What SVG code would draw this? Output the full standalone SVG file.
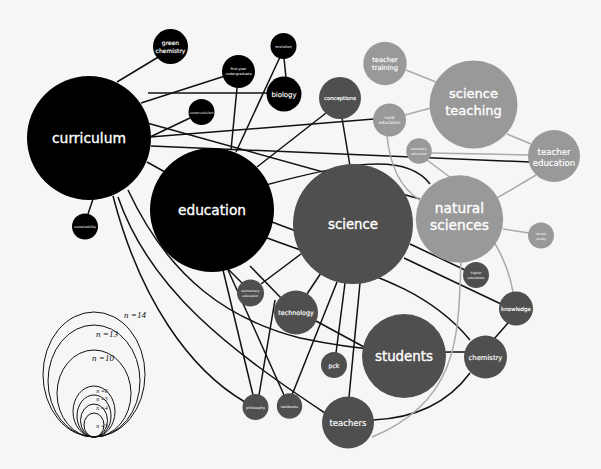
<svg xmlns="http://www.w3.org/2000/svg" width="601" height="469" viewBox="0 0 601 469">
<style>
.bg{fill:#f6f6f6}
.k{fill:#000}
.d{fill:#4f4f4f}
.g{fill:#999}
.e path,.e line{fill:none;stroke:#111;stroke-width:1.5}
.e .gr{stroke:#aaa}
text{fill:#fff;font-family:"DejaVu Sans","Open Sans",sans-serif;text-anchor:middle}
.b{stroke:#fff;stroke-width:0.35}
.m{stroke:#fff;stroke-width:0.15}
.lg ellipse{fill:none;stroke:#111;stroke-width:1}
.lg text{fill:#111;font-family:"Liberation Serif",serif;font-style:italic}
</style>
<rect class="bg" width="601" height="469"/>
<g class="e" id="connectors">
<line x1="117" y1="82" x2="160" y2="56"/>
<line x1="141" y1="103" x2="225" y2="76"/>
<line x1="148" y1="93" x2="268" y2="93"/>
<line x1="150" y1="137" x2="190" y2="118"/>
<line x1="150" y1="137" x2="374" y2="119"/>
<line x1="151" y1="146" x2="530" y2="162"/>
<line x1="147" y1="123" x2="420" y2="199"/>
<path d="M262,186 C340,165 405,150 430,184"/>
<line x1="147" y1="162" x2="165" y2="172"/>
<line x1="93" y1="199" x2="88" y2="214"/>
<line x1="237" y1="88" x2="231" y2="150"/>
<line x1="280" y1="57" x2="236" y2="152"/>
<line x1="284" y1="58" x2="286" y2="78"/>
<line x1="326" y1="113" x2="257" y2="167"/>
<line x1="342" y1="118" x2="350" y2="166"/>
<line x1="272" y1="222" x2="296" y2="231"/>
<line x1="227" y1="268" x2="243" y2="284"/>
<line x1="261" y1="284" x2="301" y2="254"/>
<line x1="250" y1="266" x2="282" y2="299"/>
<line x1="307" y1="294" x2="323" y2="270"/>
<line x1="316" y1="321" x2="364" y2="347"/>
<line x1="345" y1="283" x2="336" y2="353"/>
<line x1="337" y1="282" x2="292" y2="395"/>
<line x1="360" y1="283" x2="349" y2="397"/>
<line x1="410" y1="244" x2="465" y2="270"/>
<line x1="404" y1="258" x2="501" y2="304"/>
<line x1="223" y1="270" x2="253" y2="395"/>
<line x1="228" y1="270" x2="284" y2="395"/>
<line x1="275" y1="300" x2="259" y2="395"/>
<path d="M113,196 C140,300 190,370 245,402"/>
<path d="M118,197 C150,290 230,350 325,413"/>
<path d="M128,190 C170,280 230,320 300,338 C380,355 430,352 465,352"/>
<path d="M262,236 C350,270 420,280 470,340"/>
<path d="M373,420 C420,418 450,400 470,373"/>
<line x1="508" y1="323" x2="494" y2="339"/>
<line class="gr" x1="406" y1="70" x2="436" y2="82"/>
<line class="gr" x1="405" y1="115" x2="431" y2="108"/>
<line class="gr" x1="507" y1="134" x2="531" y2="144"/>
<line class="gr" x1="431" y1="153" x2="529" y2="155"/>
<line class="gr" x1="427" y1="160" x2="451" y2="178"/>
<line class="gr" x1="497" y1="198" x2="536" y2="175"/>
<line class="gr" x1="503" y1="229" x2="529" y2="233"/>
<path class="gr" d="M387,136 C390,165 400,188 420,200"/>
<path class="gr" d="M494,242 C505,260 510,275 513,292"/>
<path class="gr" d="M461,262 C458,330 462,400 372,437"/>
</g>
<g id="curriculum"><circle class="k" cx="89" cy="138" r="62"/><text class="b" x="89" y="143" font-size="13.9">curriculum</text></g>
<g id="education"><circle class="k" cx="212" cy="210" r="62"/><text class="b" x="212" y="214.5" font-size="13.7">education</text></g>
<g id="science"><circle class="d" cx="353" cy="224" r="60"/><text class="b" x="353" y="228.5" font-size="13.3">science</text></g>
<g id="natural-sciences"><circle class="g" cx="459.5" cy="219" r="43.7"/><text class="b" x="459.5" y="213" font-size="13.8">natural<tspan x="459.5" dy="17">sciences</tspan></text></g>
<g id="science-teaching"><circle class="g" cx="473.5" cy="104.5" r="44"/><text class="b" x="473.5" y="98" font-size="13">science<tspan x="473.5" dy="17">teaching</tspan></text></g>
<g id="teacher-training"><circle class="g" cx="385" cy="63.5" r="21.7"/><text class="m" x="385" y="61.5" font-size="6.7">teacher<tspan x="385" dy="8">training</tspan></text></g>
<g id="rural-education"><circle class="g" cx="389.5" cy="120" r="16.5"/><text x="389.5" y="118.5" font-size="4.3">rural<tspan x="389.5" dy="5.5">education</tspan></text></g>
<g id="secondary-education"><circle class="g" cx="419" cy="151" r="12.8"/><text x="419" y="150" font-size="3.2">secondary<tspan x="419" dy="4.5">education</tspan></text></g>
<g id="teacher-education"><circle class="g" cx="554" cy="156" r="26"/><text class="m" x="554" y="155" font-size="8.6">teacher<tspan x="554" dy="10.5">education</tspan></text></g>
<g id="lesson-study"><circle class="g" cx="541" cy="235.5" r="13"/><text x="541" y="235" font-size="3.4">lesson<tspan x="541" dy="4.5">study</tspan></text></g>
<g id="green-chemistry"><circle class="k" cx="170.5" cy="46.5" r="17.5"/><text class="m" x="170.5" y="45" font-size="6">green<tspan x="170.5" dy="7.5">chemistry</tspan></text></g>
<g id="first-year-undergraduate"><circle class="k" cx="238.5" cy="71.5" r="16.5"/><text x="238.5" y="70" font-size="3.5">first-year<tspan x="238.5" dy="5">undergraduate</tspan></text></g>
<g id="evolution"><circle class="k" cx="283.5" cy="46" r="13"/><text x="283.5" y="47.5" font-size="3.6">evolution</text></g>
<g id="biology"><circle class="k" cx="284" cy="94" r="17.5"/><text class="m" x="284" y="96.5" font-size="6.9">biology</text></g>
<g id="constructivism"><circle class="k" cx="201.5" cy="112" r="13"/><text x="201.5" y="113.5" font-size="3.3">constructivism</text></g>
<g id="sustainability"><circle class="k" cx="85" cy="226.5" r="13"/><text x="85" y="228" font-size="3.3">sustainability</text></g>
<g id="conceptions"><circle class="d" cx="340" cy="98" r="21"/><text class="m" x="340" y="100" font-size="5.3">conceptions</text></g>
<g id="higher-education"><circle class="d" cx="476" cy="275" r="13"/><text x="476" y="274" font-size="3.4">higher<tspan x="476" dy="4.5">education</tspan></text></g>
<g id="knowledge"><circle class="d" cx="516" cy="308.5" r="17"/><text class="m" x="516" y="310.5" font-size="5.5">knowledge</text></g>
<g id="chemistry"><circle class="d" cx="485.5" cy="357" r="21.5"/><text class="m" x="485.5" y="359.5" font-size="6.8">chemistry</text></g>
<g id="students"><circle class="d" cx="404" cy="356" r="42"/><text class="b" x="404" y="360.5" font-size="13.4">students</text></g>
<g id="teachers"><circle class="d" cx="348" cy="422.5" r="26"/><text class="m" x="348" y="425.5" font-size="8.5">teachers</text></g>
<g id="philosophy"><circle class="d" cx="255.5" cy="407" r="13"/><text x="255.5" y="408.5" font-size="3.5">philosophy</text></g>
<g id="textbooks"><circle class="d" cx="289.5" cy="406" r="12.7"/><text x="289.5" y="407.5" font-size="3.5">textbooks</text></g>
<g id="pck"><circle class="d" cx="334" cy="365" r="13"/><text class="m" x="334" y="367.5" font-size="6.2">pck</text></g>
<g id="technology"><circle class="d" cx="296" cy="312.5" r="22"/><text class="m" x="296" y="315" font-size="6.4">technology</text></g>
<g id="elementary-education"><circle class="d" cx="250.5" cy="293" r="13.5"/><text x="250.5" y="292" font-size="3.2">elementary<tspan x="250.5" dy="4.5">education</tspan></text></g>
<g id="legend" class="lg">
<ellipse cx="94" cy="374.5" rx="51" ry="62.5"/>
<ellipse cx="94" cy="381" rx="46" ry="56"/>
<ellipse cx="94" cy="393.5" rx="37" ry="43.5"/>
<ellipse cx="94" cy="411.5" rx="21" ry="25.5"/>
<ellipse cx="94" cy="416" rx="17" ry="21"/>
<ellipse cx="94" cy="420.5" rx="13.5" ry="16.5"/>
<ellipse cx="94" cy="425" rx="10" ry="12"/>
<text x="135" y="318" font-size="9">n =14</text>
<text x="107" y="337" font-size="9">n =13</text>
<text x="103" y="361" font-size="9">n =10</text>
<text x="102" y="393" font-size="6">n =6</text>
<text x="102" y="401" font-size="6">n =5</text>
<text x="102" y="410" font-size="6">n =4</text>
<text x="102" y="428" font-size="6">n =3</text>
</g>
</svg>
